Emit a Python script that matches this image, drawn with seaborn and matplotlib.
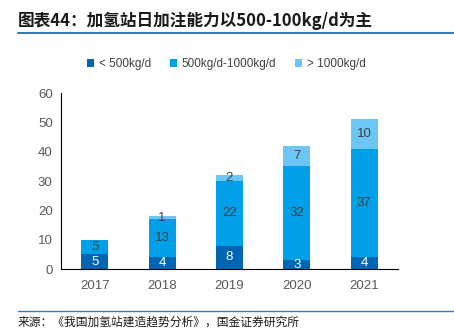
import matplotlib
matplotlib.use("Agg")
import matplotlib.pyplot as plt
import seaborn as sns
import pandas as pd
from matplotlib.lines import Line2D
from matplotlib.patches import Patch

years = ["2017", "2018", "2019", "2020", "2021"]
low = [5, 4, 8, 3, 4]
mid = [5, 13, 22, 32, 37]
high = [0, 1, 2, 7, 10]
series_names = ["< 500kg/d", "500kg/d-1000kg/d", "> 1000kg/d"]
colors = ["#0066B3", "#00A0E9", "#6CC6F4"]
label_colors = ["white", "#404040", "#404040"]
yticks = [0, 10, 20, 30, 40, 50, 60]
title = "图表44：加氢站日加注能力以500-100kg/d为主"
source = "来源：《我国加氢站建造趋势分析》，国金证券研究所"

sns.set_theme(style="white")
plt.rcParams["font.family"] = ["Liberation Sans", "Noto Sans CJK SC", "DejaVu Sans"]

df = pd.DataFrame({"year": years, "low": low, "mid": mid, "high": high})
df["b2"] = df["low"] + df["mid"]

fig = plt.figure(figsize=(4.54, 3.30), dpi=100)
ax = fig.add_axes([61 / 454, 61 / 330, 337 / 454, 176 / 330])

sns.barplot(data=df, x="year", y="low", color=colors[0], width=0.4, ax=ax,
            saturation=1, linewidth=0)
sns.barplot(data=df, x="year", y="mid", bottom=df["low"], color=colors[1], width=0.4,
            ax=ax, saturation=1, linewidth=0)
sns.barplot(data=df, x="year", y="high", bottom=df["b2"], color=colors[2], width=0.4,
            ax=ax, saturation=1, linewidth=0)

for i in range(len(years)):
    bottoms = [0, low[i], low[i] + mid[i]]
    vals = [low[i], mid[i], high[i]]
    for k in range(3):
        if vals[k] > 0:
            ax.text(i, bottoms[k] + vals[k] / 2, str(vals[k]), ha="center", va="center",
                    fontsize=9.5, color=label_colors[k])

ax.set_xlim(-0.5, len(years) - 0.5)
ax.set_ylim(0, 60)
ax.set_yticks(yticks)
ax.set_xlabel("")
ax.set_ylabel("")
for s in ["top", "right"]:
    ax.spines[s].set_visible(False)
for s in ["left", "bottom"]:
    ax.spines[s].set_color("#000000")
    ax.spines[s].set_linewidth(0.8)
ax.tick_params(axis="y", direction="in", length=3, width=0.8, color="black",
               labelsize=9.5, labelcolor="#595959", pad=6)
ax.tick_params(axis="x", length=0, labelsize=9.5, labelcolor="#595959", pad=8)
ax.set_xticks([x - 0.5 for x in range(1, len(years) + 1)], minor=True)
ax.tick_params(axis="x", which="minor", direction="in", length=3, width=0.8, color="black")

handles = [Patch(facecolor=c, edgecolor="none") for c in colors]
fig.legend(handles, series_names, loc="center", bbox_to_anchor=(226 / 454, 1 - 64 / 330),
           ncol=3, frameon=False, fontsize=8.5, handlelength=0.6, handleheight=0.6,
           handletextpad=0.4, columnspacing=1.6, labelcolor="#404040")

fig.text(18 / 454, 1 - 21 / 330, title, fontsize=12, fontweight="bold", style="italic",
         color="#1a1a1a", va="center", ha="left",
         family=["Noto Sans CJK SC", "DejaVu Sans"])
fig.add_artist(Line2D([18 / 454, 1.0], [1 - 33 / 330, 1 - 33 / 330], color="#3D7AAE", lw=1.5))
fig.add_artist(Line2D([18 / 454, 1.0], [1 - 311 / 330, 1 - 311 / 330], color="#3D7AAE", lw=1.0))
fig.text(18 / 454, 1 - 322 / 330, source, fontsize=8.5, color="#1a1a1a", va="center",
         ha="left", family=["Noto Sans CJK SC", "DejaVu Sans"])

fig.savefig("out.png", dpi=100)
